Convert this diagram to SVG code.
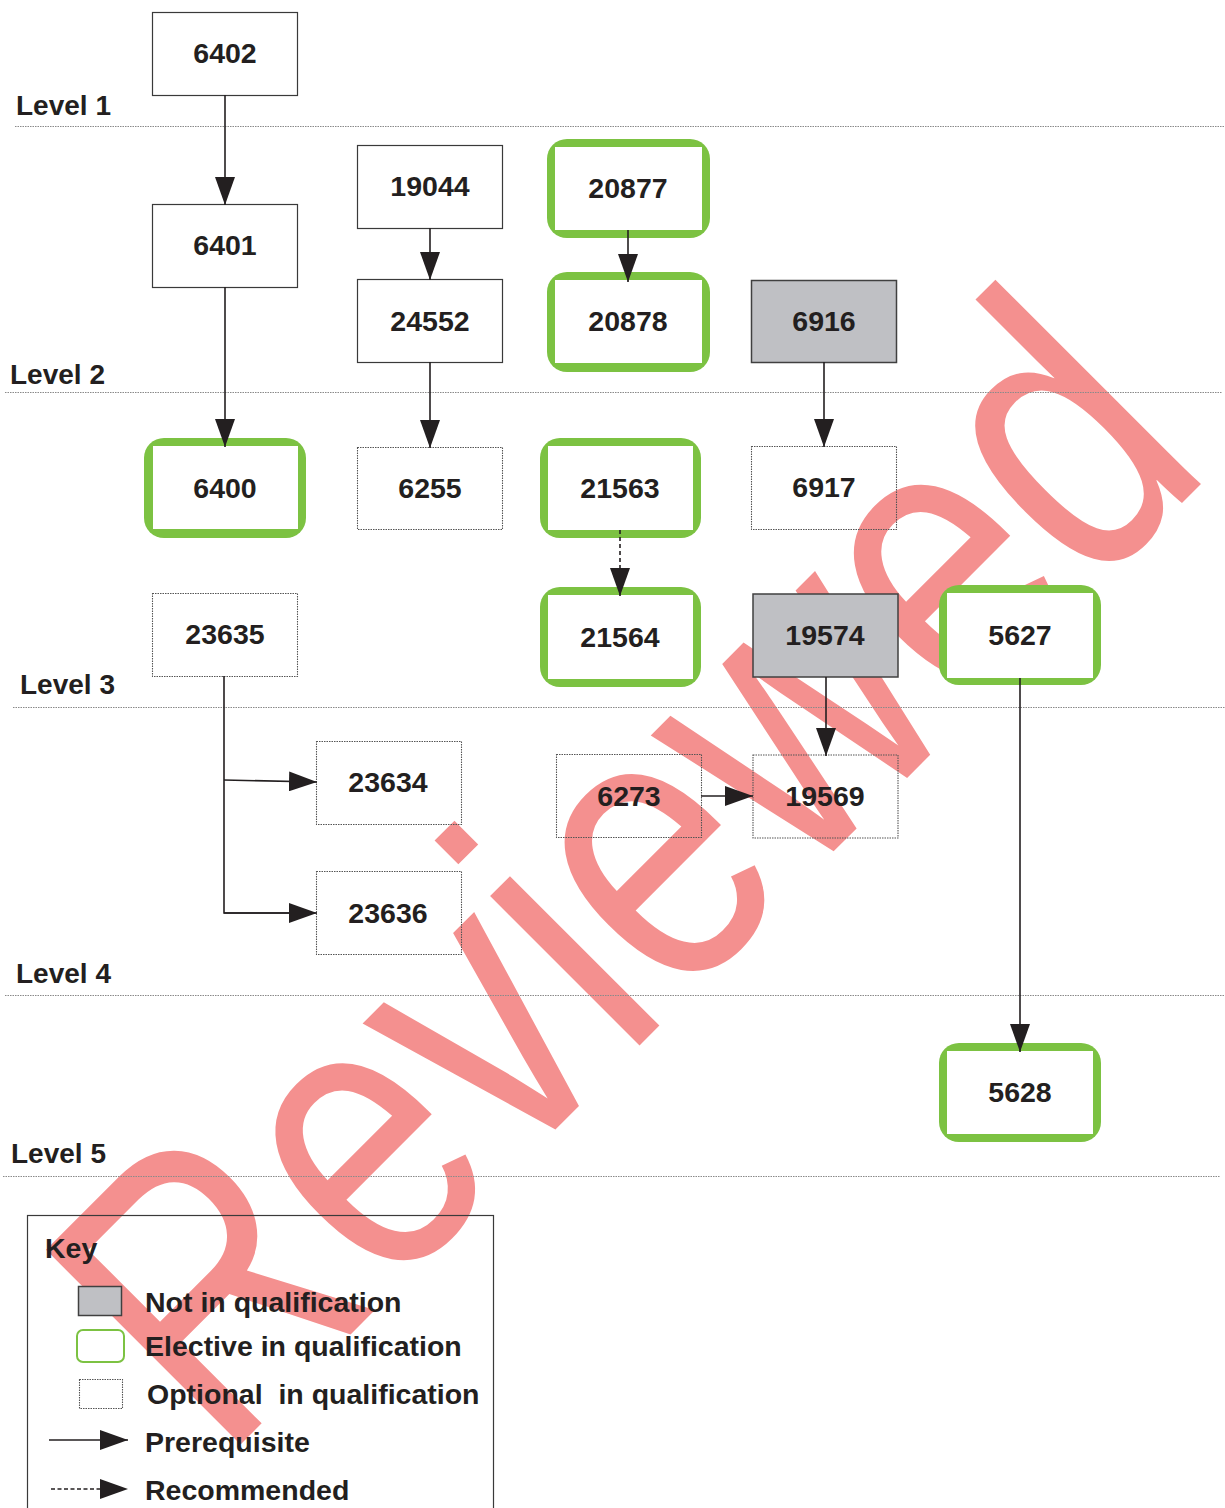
<svg xmlns="http://www.w3.org/2000/svg" width="1225" height="1508" viewBox="0 0 1225 1508">
<style>
.lvl{font-family:"Liberation Sans",Arial,sans-serif;font-weight:bold;font-size:28px;fill:#231f20}
.num{font-family:"Liberation Sans",Arial,sans-serif;font-weight:bold;font-size:28.5px;fill:#231f20;text-anchor:middle}
.kt{font-family:"Liberation Sans",Arial,sans-serif;font-weight:bold;font-size:28.5px;fill:#231f20}
.lvline{stroke:#8a8a8a;stroke-width:1.2;stroke-dasharray:1.5 1;fill:none}
.solid{fill:#ffffff;stroke:#3a3a3a;stroke-width:1.2}
.opt{fill:none;stroke:#555555;stroke-width:1.1;stroke-dasharray:1.5 1}
.gray{fill:#bfc0c4;stroke:#404040;stroke-width:1.5}
.gout{fill:#7cc242}
.gin{fill:#ffffff}
.conn{stroke:#231f20;stroke-width:1.6;fill:none}
.dash{stroke:#231f20;stroke-width:1.6;fill:none;stroke-dasharray:4 3}
.wm{font-family:"Liberation Sans",Arial,sans-serif;font-size:400px;fill:#f4908f}
</style>
<defs>
<marker id="ah" viewBox="0 0 28 20" refX="28" refY="10" markerWidth="28" markerHeight="20" markerUnits="userSpaceOnUse" orient="auto">
<path d="M0,0 L28,10 L0,20 z" fill="#231f20"/>
</marker>
</defs>
<rect x="0" y="0" width="1225" height="1508" fill="#ffffff"/>

<g id="watermark">
<text class="wm" transform="translate(222,1463) rotate(-45) scale(0.8,1)">Reviewed</text>
</g>

<g id="levels">
<line class="lvline" x1="15" y1="126.5" x2="1225" y2="126.5"/>
<line class="lvline" x1="5" y1="392.5" x2="1222" y2="392.5"/>
<line class="lvline" x1="13" y1="707.5" x2="1225" y2="707.5"/>
<line class="lvline" x1="5" y1="995.5" x2="1225" y2="995.5"/>
<line class="lvline" x1="3" y1="1176.5" x2="1220" y2="1176.5"/>
<text class="lvl" x="16" y="115">Level 1</text>
<text class="lvl" x="10" y="384">Level 2</text>
<text class="lvl" x="20" y="694">Level 3</text>
<text class="lvl" x="16" y="983">Level 4</text>
<text class="lvl" x="11" y="1163">Level 5</text>
</g>

<g id="n6402"><rect class="solid" x="152.5" y="12.5" width="145" height="83"/><text class="num" x="225" y="63">6402</text></g>
<g id="n6401"><rect class="solid" x="152.5" y="204.5" width="145" height="83"/><text class="num" x="225" y="255">6401</text></g>
<g id="n19044"><rect class="solid" x="357.5" y="145.5" width="145" height="83"/><text class="num" x="430" y="196">19044</text></g>
<g id="n24552"><rect class="solid" x="357.5" y="279.5" width="145" height="83"/><text class="num" x="430" y="331">24552</text></g>
<g id="n20877"><rect class="gout" x="547" y="139" width="163" height="99" rx="20"/><rect class="gin" x="555" y="147" width="147" height="83"/><text class="num" x="628" y="198">20877</text></g>
<g id="n20878"><rect class="gout" x="547" y="272" width="163" height="100" rx="20"/><rect class="gin" x="555" y="280" width="147" height="83"/><text class="num" x="628" y="331">20878</text></g>
<g id="n6916"><rect class="gray" x="751.5" y="280.5" width="145" height="82"/><text class="num" x="824" y="331">6916</text></g>
<g id="n6400"><rect class="gout" x="144" y="438" width="162" height="100" rx="20"/><rect class="gin" x="153" y="446" width="145" height="83"/><text class="num" x="225" y="498">6400</text></g>
<g id="n6255"><rect class="opt" x="357.5" y="447.5" width="145" height="82"/><text class="num" x="430" y="498">6255</text></g>
<g id="n21563"><rect class="gout" x="540" y="438" width="161" height="100" rx="20"/><rect class="gin" x="548" y="446" width="145" height="84"/><text class="num" x="620" y="498">21563</text></g>
<g id="n6917"><rect class="opt" x="751.5" y="446.5" width="145" height="83"/><text class="num" x="824" y="497">6917</text></g>
<g id="n23635"><rect class="opt" x="152.5" y="593.5" width="145" height="83"/><text class="num" x="225" y="644">23635</text></g>
<g id="n21564"><rect class="gout" x="540" y="587" width="161" height="100" rx="20"/><rect class="gin" x="548" y="595" width="145" height="84"/><text class="num" x="620" y="647">21564</text></g>
<g id="n19574"><rect class="gray" x="753" y="594" width="145" height="83"/><text class="num" x="825" y="645">19574</text></g>
<g id="n5627"><rect class="gout" x="939" y="585" width="162" height="100" rx="20"/><rect class="gin" x="947" y="593" width="146" height="85"/><text class="num" x="1020" y="645">5627</text></g>
<g id="n23634"><rect class="opt" x="316.5" y="741.5" width="145" height="83"/><text class="num" x="388" y="792">23634</text></g>
<g id="n6273"><rect class="opt" x="556.5" y="754.5" width="145" height="83"/><text class="num" x="629" y="806">6273</text></g>
<g id="n19569"><rect class="opt" x="753" y="755" width="145" height="83"/><text class="num" x="825" y="806">19569</text></g>
<g id="n23636"><rect class="opt" x="316.5" y="871.5" width="145" height="83"/><text class="num" x="388" y="923">23636</text></g>
<g id="n5628"><rect class="gout" x="939" y="1043" width="162" height="99" rx="20"/><rect class="gin" x="947" y="1051" width="146" height="83"/><text class="num" x="1020" y="1102">5628</text></g>

<g id="connectors">
<line class="conn" x1="225" y1="95" x2="225" y2="205" marker-end="url(#ah)"/>
<line class="conn" x1="225" y1="287" x2="225" y2="447" marker-end="url(#ah)"/>
<line class="conn" x1="430" y1="228" x2="430" y2="280" marker-end="url(#ah)"/>
<line class="conn" x1="430" y1="362" x2="430" y2="448" marker-end="url(#ah)"/>
<line class="conn" x1="628" y1="230" x2="628" y2="282" marker-end="url(#ah)"/>
<line class="conn" x1="824" y1="362" x2="824" y2="447" marker-end="url(#ah)"/>
<line class="dash" x1="620" y1="530" x2="620" y2="596" marker-end="url(#ah)"/>
<line class="conn" x1="826" y1="677" x2="826" y2="756" marker-end="url(#ah)"/>
<line class="conn" x1="1020" y1="678" x2="1020" y2="1052" marker-end="url(#ah)"/>
<polyline class="conn" points="224,676 224,913 300,913"/>
<line class="conn" x1="224" y1="913" x2="317" y2="913" marker-end="url(#ah)"/>
<line class="conn" x1="224" y1="780" x2="317" y2="782" marker-end="url(#ah)"/>
<line class="conn" x1="701" y1="796" x2="753" y2="796" marker-end="url(#ah)"/>
</g>

<g id="key">
<rect x="27.5" y="1215.5" width="466" height="300" fill="none" stroke="#3a3a3a" stroke-width="1.2"/>
<text class="kt" x="45" y="1258">Key</text>
<rect class="gray" x="78.5" y="1286.5" width="43" height="29"/>
<text class="kt" x="145" y="1312">Not in qualification</text>
<rect x="77" y="1330" width="47" height="32" rx="6" fill="#ffffff" stroke="#7cc242" stroke-width="2"/>
<text class="kt" x="145" y="1356">Elective in qualification</text>
<rect class="opt" x="79.5" y="1379.5" width="43" height="29"/>
<text class="kt" x="147" y="1404" style="white-space:pre">Optional  in qualification</text>
<line class="conn" x1="49" y1="1440" x2="128" y2="1440" marker-end="url(#ah)"/>
<text class="kt" x="145" y="1452">Prerequisite</text>
<line class="conn" x1="51" y1="1489" x2="100" y2="1489" stroke-dasharray="4 2.5"/>
<path d="M100,1479 L128,1489 L100,1499 z" fill="#231f20"/>
<text class="kt" x="145" y="1500">Recommended</text>
</g>
</svg>
